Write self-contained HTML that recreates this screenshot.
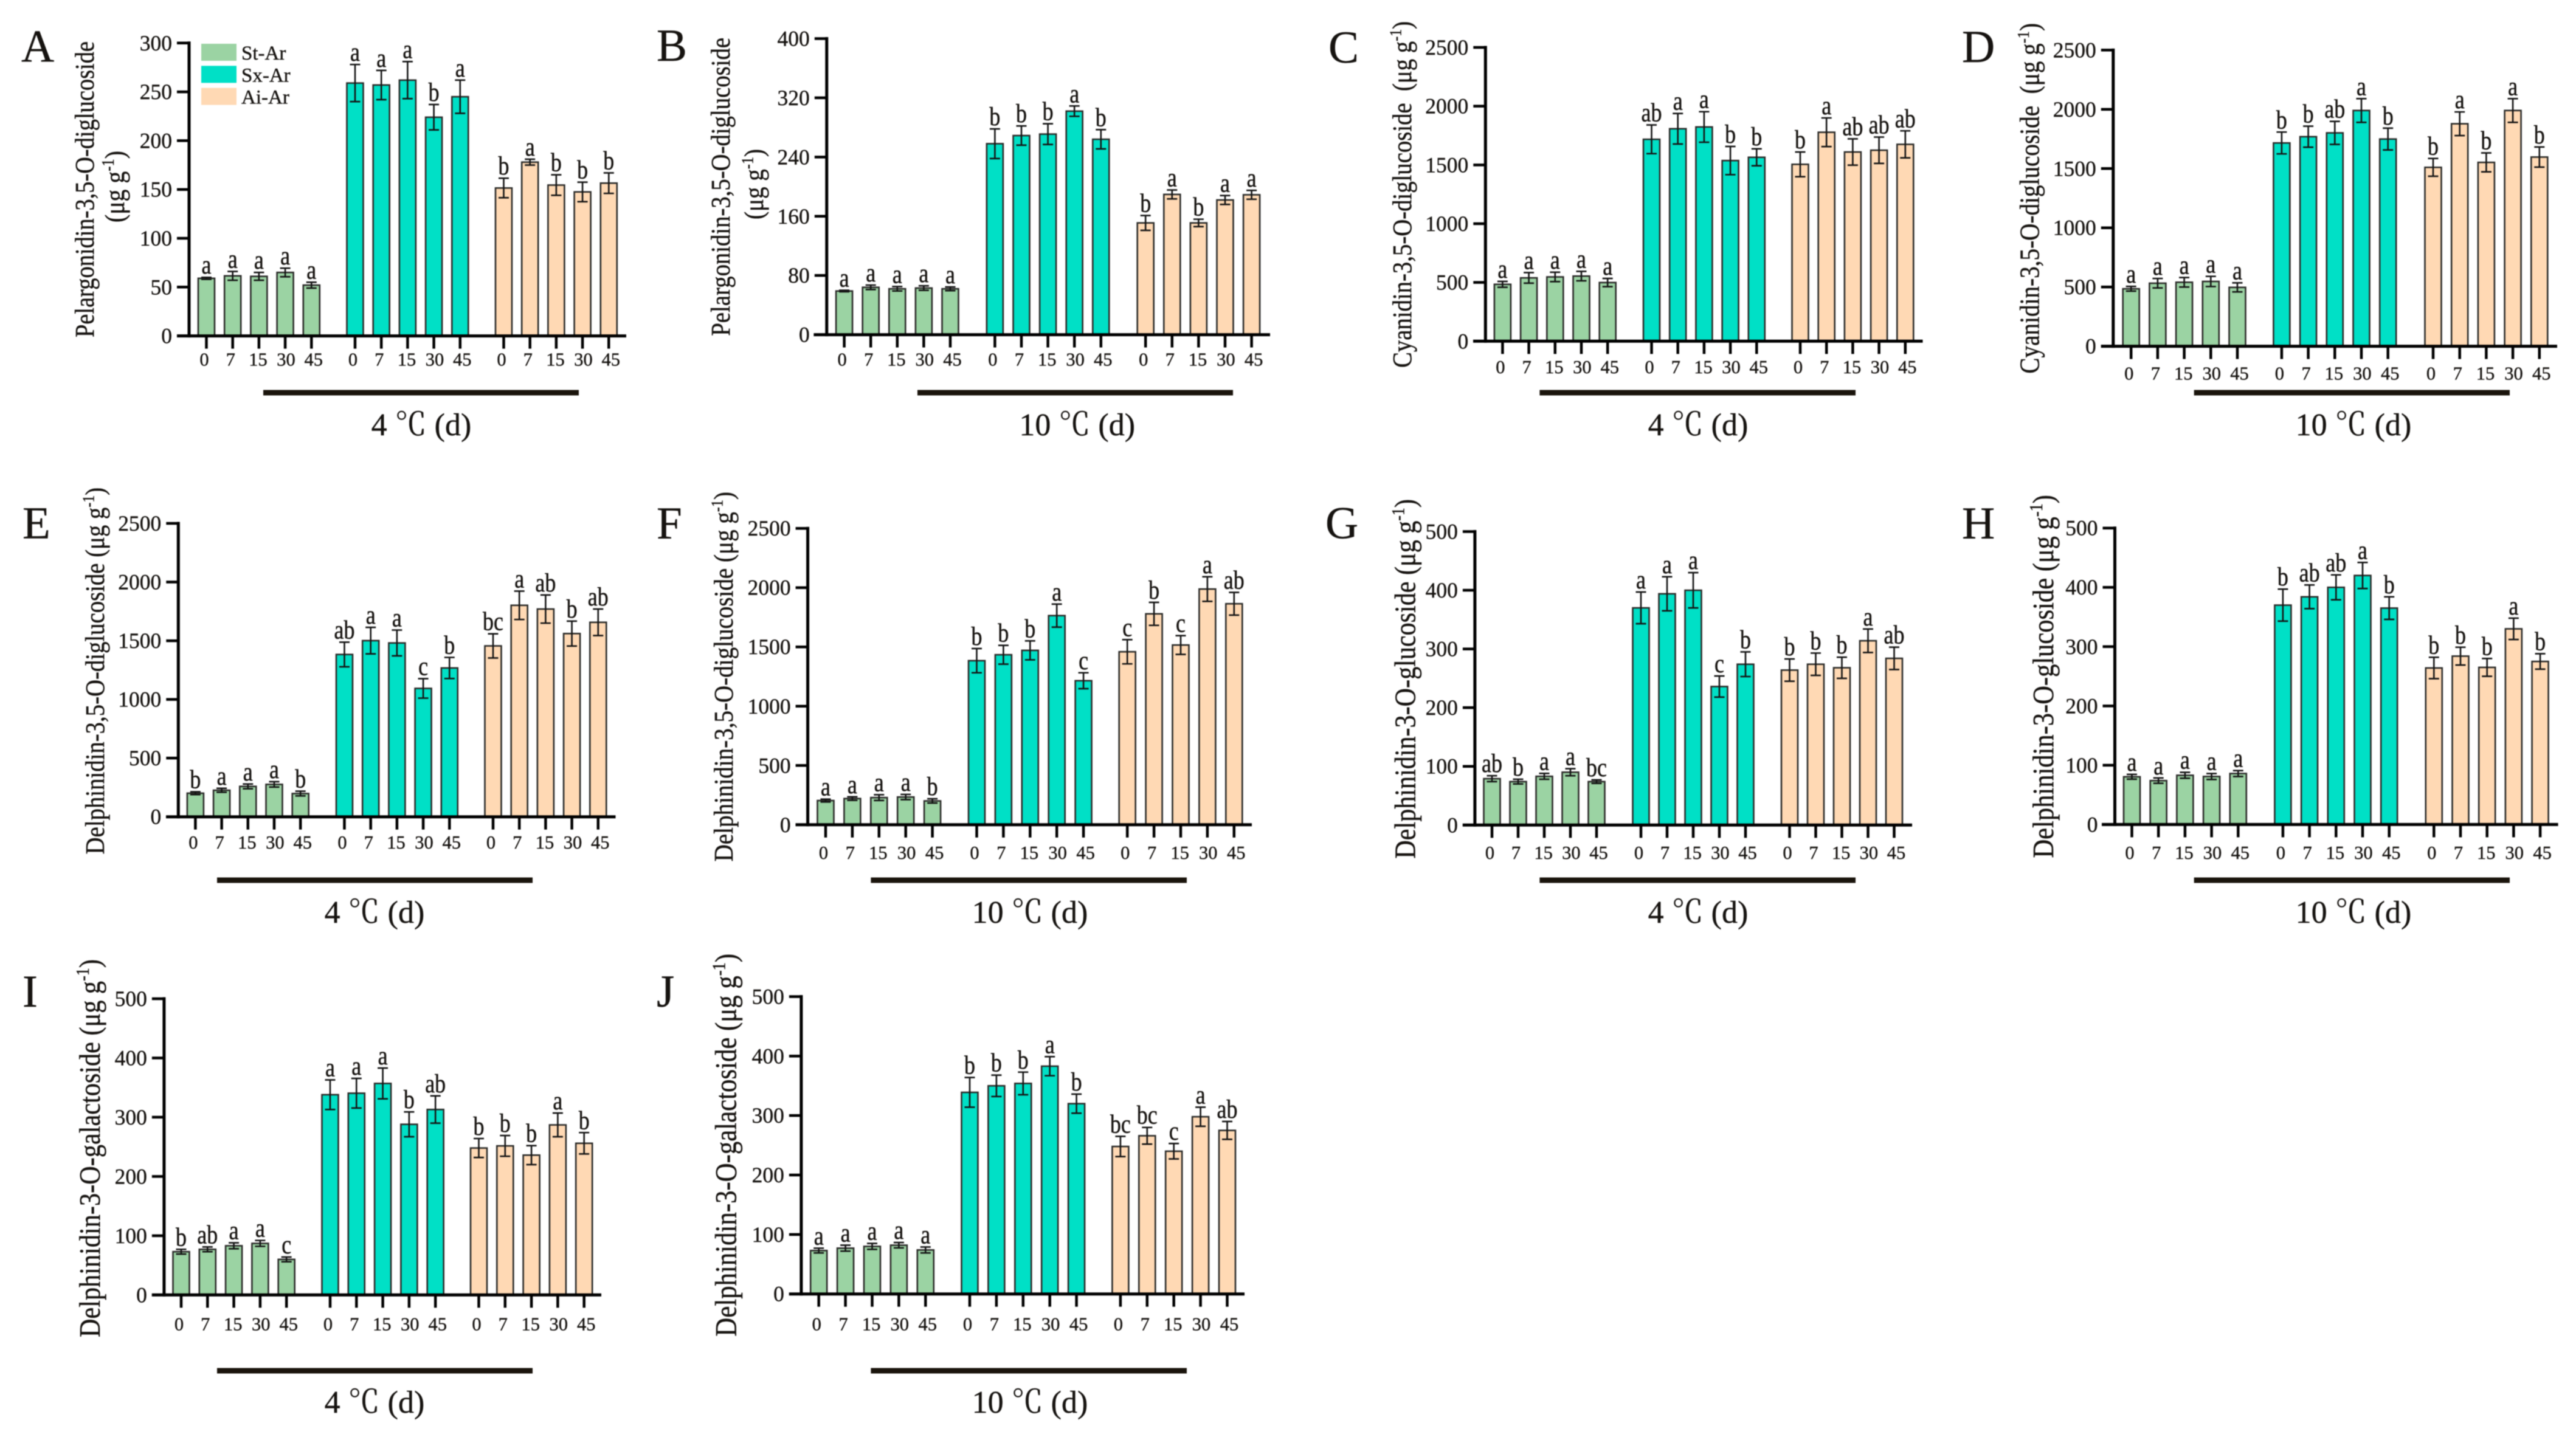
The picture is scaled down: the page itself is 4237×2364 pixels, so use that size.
<!DOCTYPE html>
<html lang="en">
<head>
<meta charset="utf-8">
<title>Anthocyanin content under cold storage</title>
<style>
html,body{margin:0;padding:0;background:#fff;width:4237px;height:2364px;overflow:hidden}
svg{display:block;filter:blur(0.7px)}
text{font-family:"Liberation Serif","Noto Serif CJK SC",serif;fill:#161310;stroke:#161310;stroke-width:0.4px}
</style>
</head>
<body>
<svg id="figure" xmlns="http://www.w3.org/2000/svg" width="4237" height="2364" viewBox="0 0 4237 2364">
<rect x="0" y="0" width="4237" height="2364" fill="#ffffff"/>
</svg>
<script>
const days = [0, 7, 15, 30, 45];
const seriesNames = ['St-Ar', 'Sx-Ar', 'Ai-Ar'];
const seriesColors = ['#9bd3a3', '#00e0c6', '#ffd9b4'];

const aTicks = [0, 50, 100, 150, 200, 250, 300];
const aMeans = [59, 61.5, 61, 65, 52, 259, 257, 262, 224, 245, 151.5, 178, 154.5, 147.5, 156.5];
const aErrs = [1, 4.5, 4, 4.4, 3, 19, 15, 19, 13, 17, 10, 3, 10.5, 10, 10.5];
const aSig = ['a','a','a','a','a','a','a','a','b','a','b','a','b','b','b'];

const bTicks = [0, 80, 160, 240, 320, 400];
const bMeans = [59, 64, 62, 63, 62, 258, 269, 271, 302, 264, 151, 189.5, 151, 182, 189];
const bErrs = [1, 3, 3, 3, 2.5, 20, 13, 14, 7, 13, 10, 6, 5, 6, 6];
const bSig = ['a','a','a','a','a','b','b','b','a','b','b','a','b','a','a'];

const cTicks = [0, 500, 1000, 1500, 2000, 2500];
const cMeans = [484, 539, 547, 554, 499, 1718, 1808, 1823, 1537, 1565, 1505, 1778, 1610, 1625, 1675];
const cErrs = [25, 45, 40, 40, 35, 122, 130, 130, 120, 72, 105, 122, 112, 112, 115];
const cSig = ['a','a','a','a','a','ab','a','a','b','b','b','a','ab','ab','ab'];

const dTicks = [0, 500, 1000, 1500, 2000, 2500];
const dMeans = [485, 532, 540, 547, 497, 1716, 1769, 1801, 1990, 1749, 1510, 1878, 1552, 1990, 1597];
const dErrs = [20, 40, 40, 43, 38, 92, 89, 97, 100, 92, 75, 100, 80, 100, 85];
const dSig = ['a','a','a','a','a','b','b','ab','a','b','b','a','b','a','b'];

const eTicks = [0, 500, 1000, 1500, 2000, 2500];
const eMeans = [201, 226, 259, 276, 198, 1383, 1501, 1481, 1094, 1268, 1456, 1802, 1770, 1561, 1657];
const eErrs = [12, 17, 20, 23, 20, 105, 113, 110, 83, 90, 103, 121, 120, 106, 113];
const eSig = ['b','a','a','a','b','ab','a','a','c','b','bc','a','ab','b','ab'];

const fTicks = [0, 500, 1000, 1500, 2000, 2500];
const fMeans = [204, 221, 229, 234, 201, 1384, 1434, 1471, 1764, 1215, 1459, 1779, 1516, 1988, 1864];
const fErrs = [12, 15, 24, 22, 18, 102, 79, 80, 97, 67, 102, 97, 79, 104, 96];
const fSig = ['a','a','a','a','b','b','b','b','a','c','c','b','c','a','ab'];

const gTicks = [0, 100, 200, 300, 400, 500];
const gMeans = [79, 74, 83, 90, 74, 370, 394, 400, 236, 274, 264, 274, 268, 314, 284];
const gErrs = [5, 4, 5, 6, 3, 27, 29, 30, 18, 21, 19, 19, 18, 20, 19];
const gSig = ['ab','b','a','a','bc','a','a','a','c','b','b','b','b','a','ab'];

const hTicks = [0, 100, 200, 300, 400, 500];
const hMeans = [80.5, 74, 83, 81, 86, 370, 384, 400, 420, 365, 264, 284, 265, 330, 275];
const hErrs = [4, 4.5, 5, 5, 5, 27, 20, 21, 22, 19, 18, 15, 15, 18, 13];
const hSig = ['a','a','a','a','a','b','ab','ab','a','b','b','b','b','a','b'];

const iTicks = [0, 100, 200, 300, 400, 500];
const iMeans = [73, 77, 83, 87, 60, 338, 340.5, 357, 288, 313, 248, 251.6, 236, 287, 256];
const iErrs = [4, 4, 5, 5, 4, 25, 25, 26, 21, 23, 16, 17.5, 16, 20, 18];
const iSig = ['b','ab','a','a','c','a','a','a','b','ab','b','b','b','a','b'];

const jTicks = [0, 100, 200, 300, 400, 500];
const jMeans = [73, 77, 80, 82, 74, 339, 350, 354, 383, 320, 248, 266, 240, 298, 275];
const jErrs = [4, 5, 5, 4.5, 5, 25, 18, 19, 16, 16, 17, 14, 13, 16, 15];
const jSig = ['a','a','a','a','a','b','b','b','a','b','bc','bc','c','a','ab'];

const dayLabelShift = [-3.5, -3.5, -1.4, 1.4, 3.5];
const NS = 'http://www.w3.org/2000/svg';
const svg = document.getElementById('figure');

const panels = [
  {id:'a', letter:'A', lx:35, ly:101, ticks:aTicks, means:aMeans, errs:aErrs, sig:aSig, ax:311, y0:552.6, yt:70.8, g:[339.5,584,828.5], sp:43.2, bl:291, br:1030, tly:591.4, rx1:433, rx2:952, ry:646, cx:693, cy:716, temp:'4 ℃ (d)',
   t1:'Pelargonidin-3,5-O-diglucoside', t1x:154, t1a:68, t1b:555, t2:true, t2x:204, t2a:248, t2b:366},
  {id:'b', letter:'B', lx:1080, ly:100, ticks:bTicks, means:bMeans, errs:bErrs, sig:bSig, ax:1359.8, y0:550.6, yt:63.5, g:[1388.6,1636.4,1884.2], sp:43.6, bl:1338.4, br:2089, tly:591.4, rx1:1509, rx2:2028, ry:646, cx:1771.7, cy:716, temp:'10 ℃ (d)',
   t1:'Pelargonidin-3,5-O-diglucoside', t1x:1200, t1a:62, t1b:552.6, t2:true, t2x:1255, t2a:245, t2b:361},
  {id:'c', letter:'C', lx:2185, ly:103, ticks:cTicks, means:cMeans, errs:cErrs, sig:cSig, ax:2443.3, y0:561.3, yt:78, g:[2471.4,2716.5,2961], sp:43.2, bl:2423, br:3162.5, tly:604, rx1:2532.4, rx2:3052, ry:646, cx:2793, cy:716, temp:'4 ℃ (d)',
   t1:'Cyanidin-3,5-O-diglucoside\u00a0\u00a0(μg g', sup:true, t1x:2321, t1a:35, t1b:605},
  {id:'d', letter:'D', lx:3227, ly:102, ticks:dTicks, means:dMeans, errs:dErrs, sig:dSig, ax:3475.8, y0:569.6, yt:82.4, g:[3505.2,3752.9,4002], sp:43.7, bl:3455.8, br:4206, tly:614.6, rx1:3608.7, rx2:4128, ry:646, cx:3871, cy:716, temp:'10 ℃ (d)',
   t1:'Cyanidin-3,5-O-diglucoside\u00a0\u00a0(μg g', sup:true, t1x:3353.6, t1a:38, t1b:614.6},
  {id:'e', letter:'E', lx:37, ly:885.7, ticks:eTicks, means:eMeans, errs:eErrs, sig:eSig, ax:293.3, y0:1343.7, yt:861, g:[321.4,566.5,811], sp:43.2, bl:273, br:1012.5, tly:1386, rx1:357, rx2:876, ry:1448, cx:616, cy:1518, temp:'4 ℃ (d)',
   t1:'Delphinidin-3,5-O-diglucoside (μg g', sup:true, t1x:171, t1a:801.8, t1b:1405.3},
  {id:'f', letter:'F', lx:1080, ly:885.7, ticks:fTicks, means:fMeans, errs:fErrs, sig:fSig, ax:1328.6, y0:1356.8, yt:869.2, g:[1358,1606.5,1854.2], sp:43.9, bl:1308.5, br:2059, tly:1403, rx1:1432.4, rx2:1952, ry:1448, cx:1694, cy:1518, temp:'10 ℃ (d)',
   t1:'Delphinidin-3,5-O-diglucoside (μg g', sup:true, t1x:1205, t1a:809, t1b:1417.4},
  {id:'g', letter:'G', lx:2180, ly:885.7, ticks:gTicks, means:gMeans, errs:gErrs, sig:gSig, ax:2425.9, y0:1357.3, yt:874.5, g:[2454,2699,2943.5], sp:43, bl:2405.8, br:3145, tly:1403, rx1:2532.4, rx2:3052, ry:1448, cx:2793, cy:1518, temp:'4 ℃ (d)',
   t1:'Delphinidin-3-O-glucoside (μg g', sup:true, t1x:2327.5, t1a:821, t1b:1412.6},
  {id:'h', letter:'H', lx:3227, ly:885.7, ticks:hTicks, means:hMeans, errs:hErrs, sig:hSig, ax:3478.5, y0:1356.4, yt:868.7, g:[3506.5,3754.9,4003.3], sp:43.7, bl:3457, br:4207.6, tly:1403, rx1:3608.7, rx2:4128, ry:1448, cx:3871, cy:1518, temp:'10 ℃ (d)',
   t1:'Delphinidin-3-O-glucoside (μg g', sup:true, t1x:3377, t1a:814, t1b:1411.6},
  {id:'i', letter:'I', lx:37, ly:1656, ticks:iTicks, means:iMeans, errs:iErrs, sig:iSig, ax:269.9, y0:2130.3, yt:1643, g:[298,543,787.5], sp:43.3, bl:249.8, br:989, tly:2178.5, rx1:357, rx2:876, ry:2255, cx:616, cy:2324, temp:'4 ℃ (d)',
   t1:'Delphinidin-3-O-galactoside (μg g', sup:true, t1x:164, t1a:1578, t1b:2200},
  {id:'j', letter:'J', lx:1080, ly:1656, ticks:jTicks, means:jMeans, errs:jErrs, sig:jSig, ax:1317.9, y0:2128.7, yt:1639.5, g:[1346.7,1595,1842.9], sp:43.9, bl:1297.8, br:2047, tly:2178.5, rx1:1432.4, rx2:1952, ry:2255, cx:1694, cy:2324, temp:'10 ℃ (d)',
   t1:'Delphinidin-3-O-galactoside (μg g', sup:true, t1x:1210.7, t1a:1569, t1b:2198.5}
];

function node(tag, parent, attrs) {
  const el = document.createElementNS(NS, tag);
  for (const k in attrs) el.setAttribute(k, attrs[k]);
  parent.appendChild(el);
  return el;
}
function line(parent, x1, y1, x2, y2, stroke, width) {
  return node('line', parent, {x1: x1, y1: y1, x2: x2, y2: y2, stroke: stroke, 'stroke-width': width});
}
function label(parent, x, y, str, size, anchor) {
  const el = node('text', parent, {x: x, y: y, 'font-size': size, 'text-anchor': anchor});
  el.textContent = str;
  return el;
}
function tallLabel(parent, x, y, str, size, stretch) {
  const el = node('text', parent, {x: 0, y: 0, 'font-size': size, 'text-anchor': 'middle', transform: 'translate(' + x + ' ' + y + ') scale(1 ' + stretch + ')'});
  el.textContent = str;
  return el;
}
function rotatedTitle(parent, x, top, bottom, main, withSup) {
  const mid = (top + bottom) / 2;
  const el = node('text', parent, {x: 0, y: 0, 'font-size': 38, 'text-anchor': 'middle', transform: 'translate(' + x + ' ' + mid + ') rotate(-90) scale(1 1.15)'});
  el.appendChild(document.createTextNode(main));
  if (withSup) {
    const s = node('tspan', el, {'font-size': '0.62em', dy: '-0.6em'});
    s.textContent = '-1';
    const c = node('tspan', el, {dy: '0.37em'});
    c.textContent = ')';
  }
  el.setAttribute('font-size', 38 * (bottom - top) / el.getComputedTextLength());
  return el;
}

function drawPanel(p) {
  const yMax = p.ticks[p.ticks.length - 1];
  const yScale = v => p.y0 - (v / yMax) * (p.y0 - p.yt);
  const xScale = i => p.g[Math.floor(i / days.length)] + (i % days.length) * p.sp;

  const panel = node('g', svg, {});
  
  

  const letter = label(panel, p.lx, p.ly, p.letter, 75, 'start');
  
  

  const title = rotatedTitle(panel, p.t1x, p.t1a, p.t1b, p.t1, !!p.sup);
  
  
  if (p.t2) {
    const unit = rotatedTitle(panel, p.t2x, p.t2a, p.t2b, '(μg g', true);
    
    
  }

  p.means.forEach((v, i) => {
    const x = xScale(i), top = yScale(v), s = Math.floor(i / days.length), d = days[i % days.length];
    const bar = node('rect', panel, {x: x - 13.5, y: top, width: 27, height: p.y0 - top, fill: seriesColors[s], stroke: '#2c2c2a', 'stroke-width': 2.6});
    
    
  });

  p.means.forEach((v, i) => {
    const x = xScale(i), e = p.errs[i], hi = yScale(v + e), lo = yScale(v - e);
    const group = node('g', panel, {stroke: '#141414', 'stroke-width': 2.6});
    
    
    line(group, x, hi, x, lo, '#141414', 2.6);
    line(group, x - 8.5, hi, x + 8.5, hi, '#141414', 2.6);
    line(group, x - 8.5, lo, x + 8.5, lo, '#141414', 2.6);
    const sig = tallLabel(panel, x, hi - 6, p.sig[i], 36, 1.2);
    
    
  });

  const yAxis = line(panel, p.ax, p.y0 + 2.5, p.ax, p.yt - 2.5, '#000', 5);
  
  
  const xAxis = line(panel, p.bl, p.y0, p.br, p.y0, '#000', 5);
  
  

  p.ticks.forEach(t => {
    const y = yScale(t);
    const mark = line(panel, p.ax - 20, y, p.ax, y, '#000', 4.5);
    
    
    const tl = label(panel, p.ax - 28, y + 12, String(t), 35.5, 'end');
    
    
  });

  p.means.forEach((v, i) => {
    const x = xScale(i), k = i % days.length;
    const mark = line(panel, x, p.y0, x, p.y0 + 21, '#000', 4.5);
    
    
    const tl = label(panel, x + dayLabelShift[k], p.tly + 10, String(days[k]), 30.5, 'middle');
    
    
  });

  const rule = node('rect', panel, {x: p.rx1, y: p.ry - 4.5, width: p.rx2 - p.rx1, height: 9, fill: '#1a140c'});
  
  
  const temp = label(panel, p.cx, p.cy, p.temp, 52, 'middle');
  
  
}

panels.forEach(drawPanel);

const legend = node('g', svg, {});


seriesNames.forEach((name, i) => {
  const y = 72 + i * 36.3;
  const swatch = node('rect', legend, {x: 331, y: y, width: 58, height: 28, fill: seriesColors[i]});
  
  
  const tx = label(legend, 397, y + 26, name, 33, 'start');
  
  
});
</script>
</body>
</html>
